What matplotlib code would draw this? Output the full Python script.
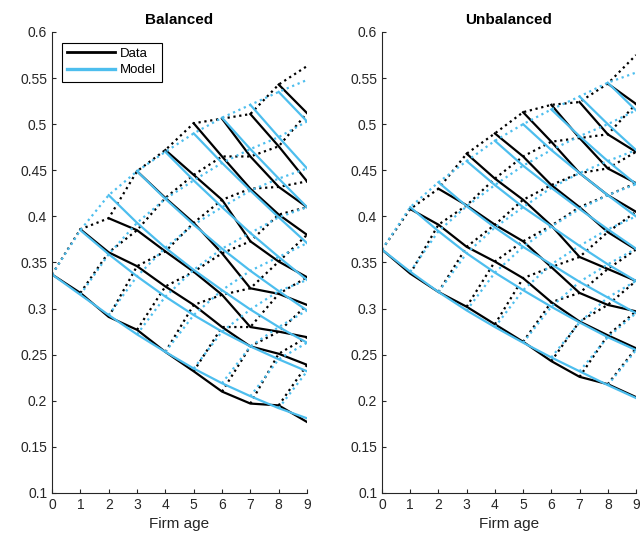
import numpy as np
import matplotlib
matplotlib.use('Agg')
import matplotlib.pyplot as plt

plt.rcParams['font.family'] = ['Liberation Sans', 'DejaVu Sans']

# each list = one start age s, values for ages s..9
bal_data = [
    [0.337, 0.317, 0.291, 0.277, 0.253, 0.232, 0.210, 0.197, 0.195, 0.177],
    [0.386, 0.361, 0.346, 0.324, 0.304, 0.280, 0.259, 0.251, 0.239],
    [0.398, 0.385, 0.362, 0.340, 0.315, 0.280, 0.275, 0.269],
    [0.449, 0.420, 0.393, 0.360, 0.322, 0.316, 0.304],
    [0.472, 0.445, 0.418, 0.373, 0.351, 0.334],
    [0.501, 0.465, 0.430, 0.402, 0.380],
    [0.506, 0.465, 0.432, 0.410],
    [0.511, 0.476, 0.438],
    [0.543, 0.512],
    [0.563],
]
bal_model = [
    [0.337, 0.315, 0.293, 0.272, 0.253, 0.235, 0.219, 0.205, 0.192, 0.181],
    [0.385, 0.359, 0.335, 0.313, 0.293, 0.275, 0.259, 0.245, 0.232],
    [0.423, 0.393, 0.366, 0.342, 0.320, 0.299, 0.280, 0.263],
    [0.449, 0.419, 0.391, 0.365, 0.341, 0.319, 0.298],
    [0.470, 0.439, 0.410, 0.382, 0.356, 0.331],
    [0.490, 0.458, 0.428, 0.399, 0.371],
    [0.507, 0.473, 0.441, 0.410],
    [0.521, 0.486, 0.452],
    [0.535, 0.503],
    [0.548],
]
unbal_data = [
    [0.364, 0.338, 0.318, 0.302, 0.283, 0.264, 0.243, 0.226, 0.218, 0.204],
    [0.408, 0.391, 0.367, 0.351, 0.333, 0.307, 0.286, 0.271, 0.257],
    [0.430, 0.412, 0.391, 0.373, 0.345, 0.317, 0.304, 0.297],
    [0.468, 0.441, 0.418, 0.390, 0.356, 0.343, 0.330],
    [0.490, 0.465, 0.434, 0.410, 0.383, 0.364],
    [0.513, 0.481, 0.447, 0.423, 0.405],
    [0.521, 0.485, 0.452, 0.436],
    [0.524, 0.489, 0.470],
    [0.544, 0.522],
    [0.575],
]
unbal_model = [
    [0.364, 0.340, 0.318, 0.298, 0.280, 0.263, 0.247, 0.232, 0.217, 0.203],
    [0.410, 0.384, 0.360, 0.339, 0.320, 0.302, 0.285, 0.269, 0.255],
    [0.437, 0.411, 0.388, 0.367, 0.348, 0.329, 0.312, 0.295],
    [0.460, 0.434, 0.410, 0.389, 0.368, 0.348, 0.330],
    [0.482, 0.455, 0.431, 0.408, 0.386, 0.365],
    [0.500, 0.472, 0.447, 0.423, 0.400],
    [0.516, 0.487, 0.460, 0.435],
    [0.530, 0.500, 0.472],
    [0.545, 0.515],
    [0.556],
]

titles = ['Balanced', 'Unbalanced']
ages = np.arange(10)
yticks = np.arange(0.1, 0.6001, 0.05)
ytick_labels = ['0.1', '0.15', '0.2', '0.25', '0.3', '0.35', '0.4', '0.45', '0.5', '0.55', '0.6']

BLUE = '#4DBEEE'
GREY = '#262626'


def draw_lattice(ax, V, color):
    n = len(V)
    # solid: same start age across ages
    for s in range(n - 1):
        ax.plot(ages[s:], V[s], '-', color=color, lw=1.6)
    # dotted: same distance from start age
    for d in range(n - 1):
        xs = [s + d for s in range(n - d)]
        ys = [V[s][d] for s in range(n - d)]
        ax.plot(xs, ys, ':', color=color, lw=1.6)


fig = plt.figure(figsize=(6.43, 5.46), dpi=100)
ax1 = fig.add_axes([0.0809, 0.0971, 0.3966, 0.8443])
ax2 = fig.add_axes([0.5941, 0.0971, 0.3950, 0.8443])

for ax, data, model, title in zip([ax1, ax2], [bal_data, unbal_data],
                                  [bal_model, unbal_model], titles):
    draw_lattice(ax, data, 'k')
    draw_lattice(ax, model, BLUE)
    ax.set_xlim(0, 9)
    ax.set_ylim(0.1, 0.6)
    ax.set_xticks(ages)
    ax.set_yticks(yticks)
    ax.set_yticklabels(ytick_labels)
    ax.set_title(title, fontsize=11, fontweight='bold', color='k', pad=6)
    ax.set_xlabel('Firm age', fontsize=11, color=GREY)
    for side in ['top', 'right']:
        ax.spines[side].set_visible(False)
    for side in ['left', 'bottom']:
        ax.spines[side].set_color(GREY)
        ax.spines[side].set_linewidth(0.8)
    ax.tick_params(direction='in', length=3, colors=GREY, labelsize=10, width=0.8)

h1, = ax1.plot([], [], '-', color='k', lw=2.0, label='Data')
h2, = ax1.plot([], [], '-', color=BLUE, lw=2.4, label='Model')
leg = ax1.legend(handles=[h1, h2], loc='upper left', fontsize=9.5, fancybox=False,
                 framealpha=1, edgecolor='k', borderpad=0.4, labelspacing=0.3,
                 handlelength=3.6, handletextpad=0.4, borderaxespad=0,
                 bbox_to_anchor=(0.04, 0.977))
leg.get_frame().set_linewidth(0.8)

fig.savefig('out.png', dpi=100)
